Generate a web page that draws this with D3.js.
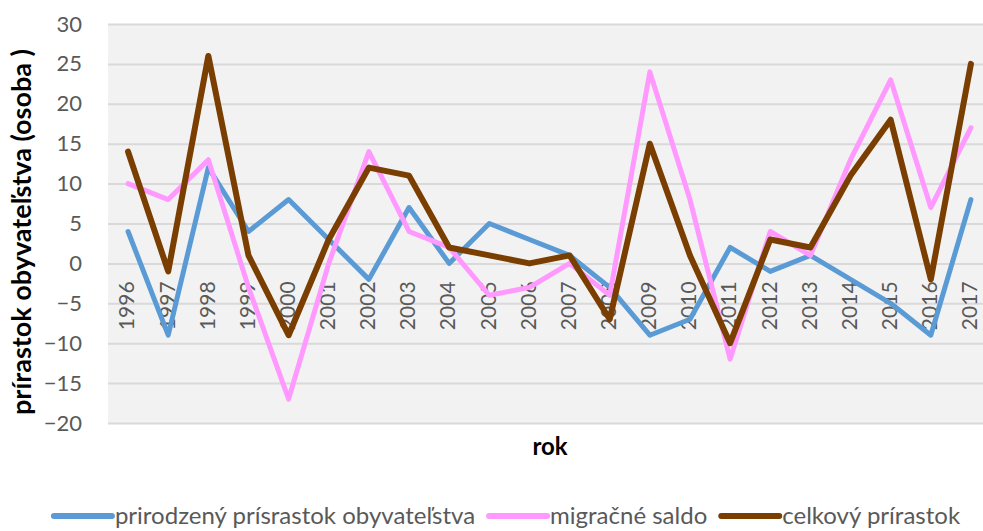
<!DOCTYPE html>
<html>
<head>
<meta charset="utf-8">
<script src="https://cdn.jsdelivr.net/npm/d3@7"></script>
<style>
  body { margin: 0; background: #fff; }
  svg { display: block; font-family: Lato, "Open Sans", sans-serif; }
</style>
</head>
<body>
<svg width="983" height="531"></svg>
<script>
// years on the category axis
var years = ["1996", "1997", "1998", "1999", "2000", "2001", "2002", "2003", "2004", "2005", "2006",
  "2007", "2008", "2009", "2010", "2011", "2012", "2013", "2014", "2015", "2016", "2017"];

// values
var prirodzeny = [4, -9, 12, 4, 8, 3, -2, 7, 0, 5, 3, 1, -3, -9, -7, 2, -1, 1, -2, -5, -9, 8];
var migracne = [10, 8, 13, -3, -17, 0, 14, 4, 2, -4, -3, 0, -4, 24, 8, -12, 4, 1, 13, 23, 7, 17];
var celkovy = [14, -1, 26, 1, -9, 3, 12, 11, 2, 1, 0, 1, -7, 15, 1, -10, 3, 2, 11, 18, -2, 25];

var yTicks = [-20, -15, -10, -5, 0, 5, 10, 15, 20, 25, 30];

var seriesNames = ["prirodzený prísrastok obyvateľstva", "migračné saldo", "celkový prírastok"];
var seriesColors = ["#5b9bd5", "#ff99ff", "#7a3e00"];
var seriesWidths = [5, 5, 6];

var svg = d3.select("svg"),
  plot = { left: 108, right: 991, top: 24, bottom: 423 };

var x = d3.scaleBand().domain(years).range([plot.left, plot.right]);
var y = d3.scaleLinear().domain([-20, 30]).range([plot.bottom, plot.top]);

// plot background
svg.append("rect")
  .attr("x", plot.left)
  .attr("y", plot.top)
  .attr("width", plot.right - plot.left)
  .attr("height", plot.bottom - plot.top)
  .attr("fill", "#f2f2f2");

// horizontal gridlines
svg.append("g")
  .attr("transform", "translate(" + plot.left + ",0)")
  .call(d3.axisLeft(y).tickValues(yTicks).tickSize(-(plot.right - plot.left)).tickFormat(""))
  .call((g) => g.select(".domain").remove())
  .selectAll("line")
  .attr("stroke", "#d9d9d9")
  .attr("stroke-width", 2);

// y axis labels
svg.append("g")
  .attr("transform", "translate(" + plot.left + ",0)")
  .call(d3.axisLeft(y).tickValues(yTicks).tickSize(0).tickPadding(26))
  .call((g) => g.select(".domain").remove())
  .selectAll("text")
  .attr("fill", "#595959")
  .style("font-size", "22px")
  .style("font-family", "Lato, sans-serif");

// x axis labels (rotated, hanging below the zero line)
svg.append("g")
  .attr("transform", "translate(0," + y(0) + ")")
  .call(d3.axisBottom(x).tickSize(0))
  .call((g) => g.select(".domain").remove())
  .selectAll("text")
  .attr("transform", "rotate(-90)")
  .attr("x", -18)
  .attr("y", 0)
  .attr("dy", "0.3em")
  .style("text-anchor", "end")
  .attr("fill", "#595959")
  .style("font-size", "21px")
  .style("font-family", "Lato, sans-serif");

// lines
var line = d3.line()
  .x((d, i) => x(years[i]) + x.bandwidth() / 2)
  .y((d) => y(d));

[prirodzeny, migracne, celkovy].forEach(function (values, k) {
  svg.append("path")
    .datum(values)
    .attr("d", line)
    .attr("fill", "none")
    .attr("stroke", seriesColors[k])
    .attr("stroke-width", seriesWidths[k])
    .attr("stroke-linejoin", "round")
    .attr("stroke-linecap", "round");
});

// axis titles
svg.append("text")
  .text("prírastok obyvateľstva (osoba )")
  .attr("transform", "translate(31," + 232 + ") rotate(-90)")
  .style("text-anchor", "middle")
  .style("font-weight", "bold")
  .style("font-size", "27px")
  .attr("fill", "#000");

svg.append("text")
  .text("rok")
  .attr("x", 550)
  .attr("y", 455)
  .style("text-anchor", "middle")
  .style("font-weight", "bold")
  .style("font-size", "24px")
  .attr("fill", "#000");

// legend
var legend = svg.append("g");
var cursor = 0;
seriesNames.forEach(function (name, k) {
  var item = legend.append("g").attr("transform", "translate(" + cursor + ",0)");
  item.append("line")
    .attr("x1", 0)
    .attr("x2", 58)
    .attr("y1", 0)
    .attr("y2", 0)
    .attr("stroke", seriesColors[k])
    .attr("stroke-width", 6)
    .attr("stroke-linecap", "round");
  var t = item.append("text")
    .text(name)
    .attr("x", 61)
    .attr("dy", "0.35em")
    .attr("fill", "#595959")
    .style("font-size", "24px");
  cursor += 61 + t.node().getComputedTextLength() + 14;
});
cursor -= 14;
legend.attr("transform", "translate(" + (507 - cursor / 2) + ",516)");
</script>
</body>
</html>
